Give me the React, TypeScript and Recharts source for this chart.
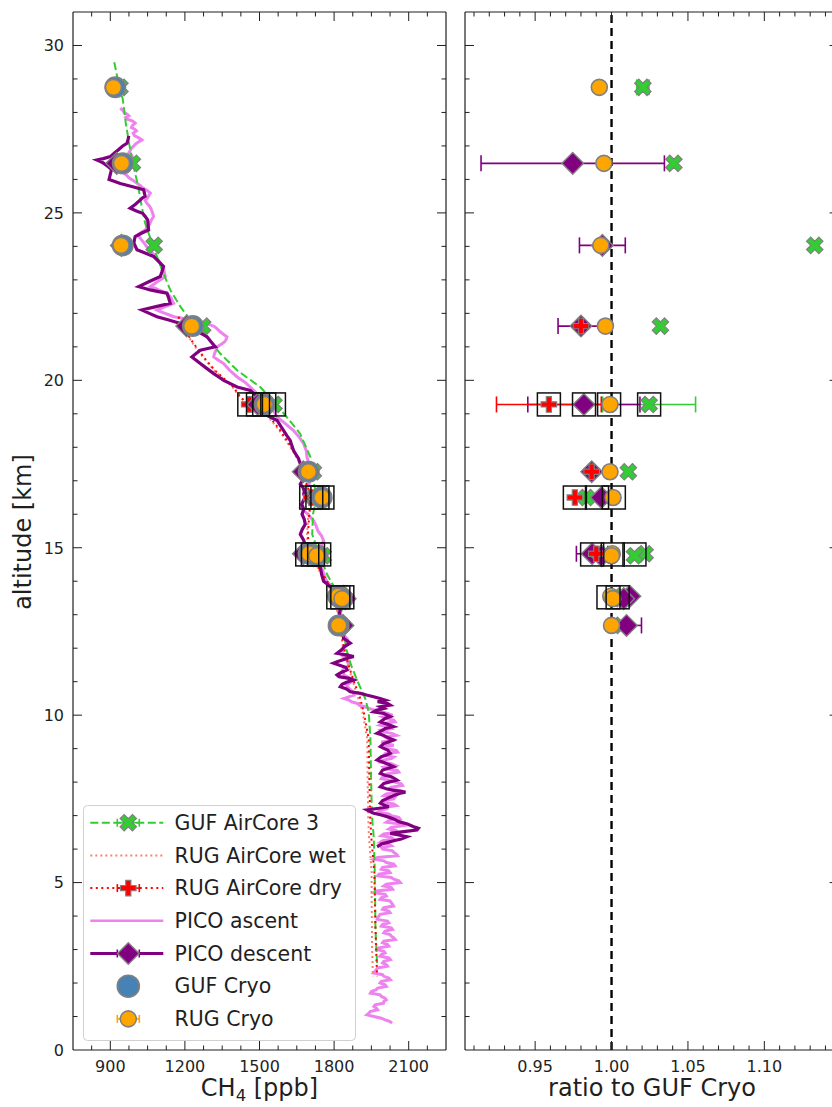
import React from "react";
import { ScatterChart, Scatter, XAxis, YAxis, ErrorBar, ReferenceLine } from "recharts";

const FONT = "'DejaVu Sans', sans-serif";
const INK = "#1f1f1f";
const EDGE = "#808080";

// ---- axis ticks ----
const altTicks = [0, 1, 2, 3, 4, 5, 6, 7, 8, 9, 10, 11, 12, 13, 14, 15, 16, 17, 18, 19, 20, 21, 22, 23, 24, 25, 26, 27, 28, 29, 30];
const altLabels = [0, 5, 10, 15, 20, 25, 30];
const ch4Ticks = [825, 900, 975, 1050, 1125, 1200, 1275, 1350, 1425, 1500, 1575, 1650, 1725, 1800, 1875, 1950, 2025, 2100, 2175];
const ch4Labels = [900, 1200, 1500, 1800, 2100];
const ratioTicks = [0.91, 0.92, 0.93, 0.94, 0.95, 0.96, 0.97, 0.98, 0.99, 1.0, 1.01, 1.02, 1.03, 1.04, 1.05, 1.06, 1.07, 1.08, 1.09, 1.1, 1.11, 1.12, 1.13, 1.14];
const ratioLabels = [0.95, 1.0, 1.05, 1.1];

// ---- cryo samples ----
const sampleAlt = [28.75, 26.48, 24.03, 21.62, 19.28, 17.27, 16.5, 14.82, 14.76, 13.55, 13.48, 12.68];
const gufCryo = [920, 950, 950, 1232, 1521, 1698, 1750, 1698, 1730, 1816, 1830, 1818];
const rugCryoRatio = [0.992, 0.995, 0.993, 0.996, 0.999, 0.999, 1.001, 1.0005, 1.0, 0.9995, 1.0008, 1.0];
const gufAirCoreRatio = [1.0205, 1.0408, 1.133, 1.032, 1.0246, 1.011, 0.9836, 1.022, 1.015, 1.0074, 1.0065, 1.0066];
const gufAirCoreErr = [0.004, null, null, null, 0.0304, null, null, null, null, null, null, null];
const rugDryRatio = [null, null, null, 0.98, 0.959, 0.987, 0.976, 0.99, null, null, null, null];
const rugDryErr = [null, null, null, null, 0.0343, null, null, null, null, null, null, null];
const picoDescRatio = [null, 0.9746, 0.994, 0.98, 0.9819, 0.987, 0.9934, 0.9873, 0.9934, 1.012, 1.008, 1.0098];
const picoDescErr = [null, 0.06, 0.015, 0.015, 0.0367, null, null, 0.0103, null, null, null, 0.0098];

// highlighted samples (black boxes)
const boxAlt = [19.28, 19.28, 19.28, 19.28, 16.5, 16.5, 16.5, 14.8, 14.8, 14.8, 13.52, 13.52];
const boxRatio = [0.959, 0.982, 0.9984, 1.0246, 0.976, 0.9905, 1.0015, 0.9873, 1.0008, 1.015, 0.998, 1.004];
const boxCh4 = [1459, 1494, 1519, 1558, 1708, 1733, 1753, 1692, 1715, 1740, 1817, 1833];

// ---- profiles [altitude km, CH4 ppb] ----
const gufAirCore3 = [
  [29.5, 916], [28.8, 935], [28.4, 950], [27.7, 962], [27.1, 975], [26.5, 990], [25.8, 1012], [25.2, 1026],
  [24.7, 1040], [24.0, 1072], [23.3, 1108], [22.7, 1141], [22.2, 1182], [21.8, 1222], [21.3, 1289], [20.8, 1342],
  [20.3, 1410], [19.8, 1503], [19.3, 1565], [18.9, 1610], [18.4, 1664], [17.7, 1705], [17.2, 1712], [16.5, 1730],
  [16.0, 1715], [15.4, 1712], [14.8, 1740], [14.2, 1772], [13.5, 1825], [12.7, 1836], [12.0, 1848], [11.5, 1868],
  [11.0, 1895], [10.5, 1925], [10.1, 1939], [9.3, 1946], [8.0, 1949], [7.0, 1952], [6.4, 1959], [5.5, 1963],
  [4.5, 1965], [3.7, 1966], [3.0, 1970], [2.6, 1973],
];

const rugAirCoreDry = [
  [21.9, 1175], [21.7, 1182], [21.1, 1235], [20.7, 1275], [20.3, 1320], [19.8, 1395], [19.5, 1423], [19.3, 1455],
  [19.0, 1530], [18.5, 1584], [17.9, 1637], [17.5, 1668], [17.25, 1675], [16.9, 1690], [16.5, 1708], [16.0, 1700],
  [15.4, 1695], [14.8, 1700], [14.2, 1755], [13.8, 1790], [13.5, 1808], [12.7, 1825], [12.0, 1840], [11.5, 1858],
  [11.0, 1880], [10.5, 1905], [10.1, 1919], [9.3, 1939], [8.0, 1942], [7.0, 1945], [6.4, 1949], [5.3, 1962],
  [4.5, 1964], [3.8, 1966], [3.0, 1969], [2.2, 1973],
];

const rugAirCoreWet = [
  [21.9, 1172], [21.7, 1180], [21.1, 1232], [20.7, 1272], [20.3, 1317], [19.8, 1392], [19.5, 1420], [19.3, 1452],
  [19.0, 1526], [18.5, 1580], [17.9, 1633], [17.5, 1664], [16.9, 1686], [16.5, 1704], [16.0, 1696], [15.4, 1691],
  [14.8, 1696], [14.2, 1751], [13.5, 1804], [12.7, 1821], [12.0, 1836], [11.0, 1876], [10.1, 1914], [9.3, 1933],
  [8.0, 1935], [7.0, 1937], [6.4, 1940], [5.3, 1951], [4.5, 1951], [3.8, 1952], [3.0, 1953], [2.2, 1956],
];

const picoAscent = [
  [28.13, 940], [28.05, 952], [28.0, 955], [27.95, 968], [27.9, 975], [27.85, 962], [27.8, 968], [27.74, 990],
  [27.68, 1000], [27.6, 988], [27.55, 985], [27.5, 998], [27.45, 1005], [27.38, 992], [27.3, 998], [27.24, 1015],
  [27.18, 1027], [27.1, 1010], [27.05, 1000], [26.98, 992], [26.93, 985], [26.86, 980], [26.8, 975], [26.72, 986],
  [26.65, 990], [26.58, 978], [26.5, 985], [26.42, 972], [26.35, 965], [26.27, 960], [26.19, 953], [26.12, 966],
  [26.05, 975], [25.97, 992], [25.89, 1007], [25.82, 1020], [25.75, 1030], [25.67, 1048], [25.59, 1061], [25.52, 1055],
  [25.45, 1050], [25.37, 1040], [25.29, 1047], [25.2, 1058], [25.1, 1065], [25.0, 1070], [24.89, 1074], [24.8, 1066],
  [24.7, 1060], [24.6, 1052], [24.49, 1041], [24.42, 1025], [24.34, 1010], [24.27, 1018], [24.2, 1025], [24.1, 1036],
  [24.0, 1045], [23.9, 1058], [23.8, 1070], [23.72, 1078], [23.65, 1085], [23.57, 1095], [23.5, 1101], [23.4, 1108],
  [23.3, 1115], [23.2, 1118], [23.1, 1121], [23.02, 1105], [22.95, 1090], [22.87, 1075], [22.8, 1061], [22.75, 1080],
  [22.7, 1095], [22.65, 1112], [22.6, 1128], [22.52, 1138], [22.45, 1145], [22.37, 1150], [22.3, 1155], [22.25, 1138],
  [22.2, 1120], [22.15, 1104], [22.1, 1088], [22.05, 1102], [22.0, 1120], [21.95, 1138], [21.9, 1155], [21.85, 1195],
  [21.8, 1230], [21.75, 1260], [21.7, 1285], [21.65, 1305], [21.6, 1320], [21.52, 1332], [21.45, 1342], [21.37, 1356],
  [21.3, 1369], [21.22, 1366], [21.15, 1360], [21.07, 1345], [21.0, 1329], [20.92, 1326], [20.85, 1322], [20.77, 1318],
  [20.7, 1316], [20.65, 1325], [20.6, 1335], [20.55, 1346], [20.5, 1356], [20.4, 1368], [20.3, 1380], [20.2, 1395],
  [20.1, 1410], [19.95, 1440], [19.8, 1463], [19.6, 1490], [19.4, 1520], [19.2, 1545], [19.05, 1560], [18.9, 1571],
  [18.7, 1605], [18.5, 1637], [18.3, 1660], [18.1, 1678], [17.9, 1688], [17.7, 1691], [17.5, 1700], [17.3, 1705],
  [17.1, 1702], [16.9, 1700], [16.75, 1685], [16.6, 1690], [16.4, 1675], [16.2, 1664], [16.0, 1695], [15.8, 1718],
  [15.65, 1728], [15.5, 1735], [15.35, 1750], [15.2, 1758], [15.05, 1745], [14.9, 1735], [14.75, 1728], [14.6, 1730],
  [14.45, 1745], [14.3, 1755], [14.15, 1762], [14.0, 1770], [13.85, 1790], [13.7, 1800], [13.55, 1810], [13.4, 1815],
  [13.2, 1822], [13.0, 1828], [12.85, 1835], [12.7, 1830], [12.55, 1845], [12.4, 1840], [12.25, 1855], [12.1, 1850],
  [11.95, 1835], [11.8, 1830], [11.65, 1850], [11.5, 1860], [11.35, 1835], [11.2, 1840], [11.1, 1865], [11.0, 1870],
  [10.9, 1850], [10.8, 1860], [10.7, 1875], [10.6, 1880], [10.5, 1840], [10.45, 1860], [10.4, 1870], [10.35, 1895],
  [10.3, 1900], [10.25, 1925], [10.2, 1940], [10.15, 1965], [10.1, 1990], [10.05, 2015], [10.0, 2035], [9.95, 1995],
  [9.9, 2010], [9.85, 2040], [9.8, 2045], [9.75, 2000], [9.7, 1985], [9.65, 2020], [9.6, 2030], [9.55, 1990],
  [9.5, 2000], [9.45, 2035], [9.4, 2050], [9.35, 2005], [9.3, 2015], [9.25, 2045], [9.2, 1990], [9.15, 2010],
  [9.1, 2040], [9.05, 1995], [9.0, 2010], [8.95, 2050], [8.9, 2055], [8.85, 2005], [8.8, 2000], [8.75, 2040],
  [8.7, 2030], [8.65, 1990], [8.6, 1985], [8.55, 2030], [8.5, 2045], [8.45, 2000], [8.4, 2010], [8.35, 2055],
  [8.3, 2060], [8.25, 2015], [8.2, 2020], [8.15, 1995], [8.1, 1990], [8.05, 2030], [8.0, 2045], [7.95, 2070],
  [7.9, 2075], [7.85, 2030], [7.8, 2020], [7.75, 2065], [7.7, 2060], [7.65, 2010], [7.6, 2000], [7.55, 2045],
  [7.5, 2040], [7.45, 2000], [7.4, 1995], [7.35, 2040], [7.3, 2050], [7.25, 2005], [7.2, 2010], [7.15, 1985],
  [7.1, 1975], [7.05, 2020], [7.0, 2030], [6.95, 2060], [6.9, 2065], [6.85, 2020], [6.8, 2010], [6.75, 2070],
  [6.7, 2080], [6.65, 2030], [6.6, 2020], [6.55, 2050], [6.5, 2055], [6.45, 2000], [6.4, 1990], [6.35, 2030],
  [6.3, 2040], [6.25, 1995], [6.2, 1985], [6.15, 2020], [6.1, 2030], [6.05, 1990], [6.0, 1995], [5.95, 2035],
  [5.9, 2040], [5.85, 2050], [5.8, 2055], [5.75, 1975], [5.7, 1960], [5.65, 2000], [5.6, 2010], [5.55, 2040],
  [5.5, 2045], [5.45, 1995], [5.4, 1990], [5.35, 2020], [5.3, 2025], [5.25, 1980], [5.2, 1975], [5.15, 2030],
  [5.1, 2040], [5.05, 2060], [5.0, 2066], [4.95, 2010], [4.9, 2000], [4.85, 2030], [4.8, 2035], [4.75, 1970],
  [4.7, 1960], [4.65, 2005], [4.6, 2010], [4.55, 1990], [4.5, 1985], [4.45, 2025], [4.4, 2030], [4.35, 2035],
  [4.3, 2039], [4.25, 2000], [4.2, 1995], [4.15, 2020], [4.1, 2025], [4.05, 1985], [4.0, 1980], [3.95, 1975],
  [3.9, 1973], [3.85, 2015], [3.8, 2020], [3.75, 1995], [3.7, 1990], [3.65, 2030], [3.6, 2035], [3.55, 2005],
  [3.5, 2000], [3.45, 2025], [3.4, 2030], [3.35, 2040], [3.3, 2046], [3.25, 2000], [3.2, 1995], [3.15, 2015],
  [3.1, 2020], [3.05, 1980], [3.0, 1973], [2.95, 2000], [2.9, 2005], [2.85, 1990], [2.8, 1985], [2.75, 2020],
  [2.7, 2026], [2.65, 2000], [2.6, 1995], [2.55, 2010], [2.5, 2015], [2.45, 1975], [2.4, 1970], [2.35, 1965],
  [2.3, 1959], [2.25, 1995], [2.2, 2000], [2.15, 2020], [2.1, 2026], [2.05, 1990], [2.0, 1985], [1.95, 2005],
  [1.9, 2010], [1.85, 1975], [1.8, 1970], [1.75, 1950], [1.7, 1946], [1.65, 1985], [1.6, 1990], [1.55, 2005],
  [1.5, 2010], [1.45, 2000], [1.4, 1999], [1.35, 1965], [1.3, 1960], [1.25, 1970], [1.2, 1975], [1.15, 1945],
  [1.1, 1940], [1.05, 1932], [1.0, 1960], [0.95, 1990], [0.9, 2005], [0.85, 2025], [0.8, 2033],
];

const picoDescent = [
  [27.3, 974], [27.2, 972], [27.08, 967], [27.0, 950], [26.9, 935], [26.8, 918], [26.68, 900], [26.62, 872],
  [26.58, 846], [26.54, 858], [26.5, 870], [26.4, 888], [26.3, 905], [26.15, 900], [26.0, 895], [25.94, 918],
  [25.88, 940], [25.78, 990], [25.69, 1034], [25.6, 1037], [25.5, 1040], [25.45, 1030], [25.39, 1021], [25.25, 1000],
  [25.14, 980], [25.06, 1005], [24.99, 1030], [24.9, 1040], [24.79, 1050], [24.65, 1052], [24.49, 1054], [24.4, 1027],
  [24.29, 1000], [24.2, 997], [24.1, 995], [24.0, 1001], [23.9, 1007], [23.8, 1040], [23.7, 1074], [23.55, 1094],
  [23.4, 1114], [23.25, 1108], [23.1, 1101], [22.95, 1057], [22.8, 1014], [22.75, 1037], [22.7, 1060], [22.65, 1094],
  [22.6, 1128], [22.45, 1135], [22.3, 1141], [22.2, 1084], [22.1, 1027], [22.0, 1057], [21.9, 1088], [21.8, 1135],
  [21.7, 1182], [21.6, 1211], [21.5, 1240], [21.4, 1265], [21.3, 1289], [21.15, 1305], [21.0, 1322], [20.95, 1292],
  [20.9, 1262], [20.8, 1245], [20.7, 1228], [20.6, 1245], [20.5, 1262], [20.35, 1289], [20.2, 1316], [20.1, 1336],
  [20.0, 1356], [19.9, 1383], [19.8, 1410], [19.75, 1437], [19.7, 1463], [19.6, 1477], [19.5, 1490], [19.4, 1498],
  [19.3, 1505], [19.15, 1511], [19.0, 1517], [18.9, 1544], [18.8, 1571], [18.65, 1584], [18.5, 1597], [18.35, 1610],
  [18.2, 1624], [18.05, 1630], [17.9, 1637], [17.78, 1647], [17.67, 1657], [17.55, 1662], [17.4, 1670], [17.25, 1665],
  [17.1, 1668], [17.0, 1672], [16.9, 1664], [16.8, 1675], [16.7, 1680], [16.6, 1678], [16.5, 1684], [16.4, 1676],
  [16.3, 1670], [16.15, 1678], [16.0, 1671], [15.85, 1680], [15.7, 1684], [15.55, 1672], [15.4, 1664], [15.25, 1676],
  [15.1, 1684], [14.95, 1692], [14.8, 1700], [14.7, 1712], [14.6, 1725], [14.5, 1735], [14.4, 1745], [14.2, 1750],
  [14.0, 1758], [13.9, 1775], [13.8, 1790], [13.65, 1800], [13.5, 1812], [13.35, 1818], [13.2, 1825], [13.05, 1822],
  [12.9, 1820], [12.75, 1826], [12.6, 1830], [12.45, 1834], [12.3, 1838], [12.22, 1852], [12.15, 1865], [12.05, 1842],
  [11.95, 1830], [11.85, 1812], [11.8, 1850], [11.75, 1879], [11.68, 1845], [11.6, 1815], [11.55, 1798], [11.48, 1825],
  [11.42, 1848], [11.35, 1852], [11.28, 1830], [11.2, 1812], [11.15, 1820], [11.1, 1860], [11.05, 1879], [10.98, 1850],
  [10.92, 1832], [10.85, 1825], [10.78, 1850], [10.7, 1865], [10.65, 1906], [10.6, 1930], [10.55, 1959], [10.5, 1985],
  [10.45, 2006], [10.4, 1975], [10.35, 2015], [10.3, 2026], [10.25, 1986], [10.2, 2000], [10.15, 1970], [10.1, 1959],
  [10.05, 2000], [9.96, 2026], [9.9, 2005], [9.8, 1986], [9.73, 2015], [9.66, 2039], [9.6, 2005], [9.55, 1995],
  [9.46, 1973], [9.4, 1998], [9.35, 2010], [9.26, 2039], [9.2, 2018], [9.15, 2000], [9.06, 1986], [9.0, 2002],
  [8.96, 2015], [8.86, 2026], [8.8, 2008], [8.76, 1990], [8.66, 1973], [8.6, 1995], [8.56, 2010], [8.46, 2039],
  [8.4, 2012], [8.36, 1995], [8.26, 1986], [8.2, 2008], [8.16, 2030], [8.1, 2045], [8.06, 2053], [8.0, 2020],
  [7.96, 2000], [7.86, 1986], [7.8, 2010], [7.76, 2035], [7.7, 2087], [7.67, 2066], [7.6, 2040], [7.5, 2010],
  [7.45, 1995], [7.37, 1986], [7.3, 2005], [7.27, 2020], [7.22, 1980], [7.17, 1932], [7.12, 1945], [7.07, 1960],
  [7.02, 1990], [6.97, 2013], [6.9, 2040], [6.82, 2060], [6.75, 2095], [6.67, 2120], [6.62, 2139], [6.57, 2133],
  [6.52, 2080], [6.47, 2026], [6.42, 2060], [6.37, 2093], [6.3, 2070], [6.25, 2040], [6.2, 2015], [6.15, 1990],
  [6.1, 1980], [6.07, 1973],
];

// ---- helpers ----
const toPts = (rows: number[][]) => rows.map(([y, x]) => ({ x, y }));

function samplePts(ratio: (number | null)[], err: (number | null)[] | null, onCh4: boolean) {
  const out: { x: number; y: number; err?: number }[] = [];
  ratio.forEach((r, i) => {
    if (r == null) return;
    const e = err ? err[i] : null;
    out.push({ x: onCh4 ? r * gufCryo[i] : r, y: sampleAlt[i], ...(e != null ? { err: e } : {}) });
  });
  return out;
}

const plusUnit = [[-1, -3], [1, -3], [1, -1], [3, -1], [3, 1], [1, 1], [1, 3], [-1, 3], [-1, 1], [-3, 1], [-3, -1], [-1, -1]];
function crossPoints(cx: number, cy: number, k: number, rot: number) {
  const c = Math.cos(rot);
  const s = Math.sin(rot);
  return plusUnit.map(([a, b]) => `${cx + k * (a * c - b * s)},${cy + k * (a * s + b * c)}`).join(" ");
}

const noMark = () => <g />;
const circleMark = (r: number, fill: string) => (p: any) => (
  <circle cx={p.cx} cy={p.cy} r={r} fill={fill} stroke={EDGE} strokeWidth={1.6} />
);
const xMark = (k: number, fill: string) => (p: any) => (
  <polygon points={crossPoints(p.cx, p.cy, k, Math.PI / 4)} fill={fill} stroke={EDGE} strokeWidth={1.2} />
);
const plusMark = (k: number, fill: string) => (p: any) => (
  <polygon points={crossPoints(p.cx, p.cy, k, 0)} fill={fill} stroke={EDGE} strokeWidth={1.1} />
);
const diamondMark = (h: number, fill: string) => (p: any) => (
  <polygon
    points={`${p.cx},${p.cy - h} ${p.cx + h},${p.cy} ${p.cx},${p.cy + h} ${p.cx - h},${p.cy}`}
    fill={fill}
    stroke={EDGE}
    strokeWidth={1.4}
  />
);
const boxMark = (p: any) => (
  <rect x={p.cx - 11.5} y={p.cy - 11.5} width={23} height={23} fill="none" stroke="#111" strokeWidth={1.5} />
);

const TOP = 12;

const isMajor = (list: number[], v: number) => list.some((m) => Math.abs(m - v) < 1e-6);

const xTick = (labels: number[], fmt: (v: number) => string) => (props: any) => {
  const { x, y, payload } = props;
  const major = isMajor(labels, payload.value);
  const len = major ? 9 : 4.5;
  return (
    <g>
      <line x1={x} x2={x} y1={y} y2={y - len} stroke={INK} strokeWidth={1} />
      <line x1={x} x2={x} y1={TOP} y2={TOP + len} stroke={INK} strokeWidth={1} />
      {major && (
        <text x={x} y={y + 21.5} textAnchor="middle" fontSize={16} fontFamily={FONT} fill={INK}>
          {fmt(payload.value)}
        </text>
      )}
    </g>
  );
};

const yTick = (rightX: number, showLabel: boolean) => (props: any) => {
  const { x, y, payload } = props;
  const major = isMajor(altLabels, payload.value);
  const len = major ? 9 : 4.5;
  const edge = payload.value === 0;
  return (
    <g>
      {!edge && <line x1={x} x2={x + len} y1={y} y2={y} stroke={INK} strokeWidth={1} />}
      {!edge && <line x1={rightX} x2={rightX - len} y1={y} y2={y} stroke={INK} strokeWidth={1} />}
      {major && showLabel && (
        <text x={x - 9} y={y + 5.8} textAnchor="end" fontSize={16} fontFamily={FONT} fill={INK}>
          {payload.value}
        </text>
      )}
    </g>
  );
};

const GREEN = "#32CD32";
const RED = "#FF0000";
const SALMON = "#FA8072";
const VIOLET = "#EE82EE";
const PURPLE = "#800080";
const STEEL = "#4682B4";
const ORANGE = "#FFA500";

function ProfilePanel() {
  return (
    <ScatterChart width={460} height={1107} margin={{ top: TOP, right: 14, bottom: 0, left: 0 }}>
      <XAxis
        type="number"
        dataKey="x"
        domain={[750, 2250]}
        allowDataOverflow
        ticks={ch4Ticks}
        interval={0}
        tickLine={false}
        tickSize={0}
        tickMargin={0}
        height={57}
        axisLine={{ stroke: INK, strokeWidth: 1.2 }}
        tick={xTick(ch4Labels, (v) => String(v))}
      />
      <YAxis
        type="number"
        dataKey="y"
        domain={[0, 31]}
        allowDataOverflow
        ticks={altTicks}
        interval={0}
        tickLine={false}
        tickSize={0}
        tickMargin={0}
        width={73}
        axisLine={{ stroke: INK, strokeWidth: 1.2 }}
        tick={yTick(446, true)}
      />
      <ReferenceLine y={31} stroke={INK} strokeWidth={1.2} />
      <ReferenceLine x={2250} stroke={INK} strokeWidth={1.2} />

      <Scatter data={toPts(picoAscent)} shape={noMark} line={{ stroke: VIOLET, strokeWidth: 3 }} isAnimationActive={false} />
      <Scatter data={toPts(gufAirCore3)} shape={noMark} line={{ stroke: GREEN, strokeWidth: 2, strokeDasharray: "8 3.5" }} isAnimationActive={false} />
      <Scatter data={toPts(rugAirCoreWet)} shape={noMark} line={{ stroke: SALMON, strokeWidth: 2, strokeDasharray: "2 3" }} isAnimationActive={false} />
      <Scatter data={toPts(rugAirCoreDry)} shape={noMark} line={{ stroke: RED, strokeWidth: 2, strokeDasharray: "2 3.5" }} isAnimationActive={false} />
      <Scatter data={toPts(picoDescent)} shape={noMark} line={{ stroke: PURPLE, strokeWidth: 3.2 }} isAnimationActive={false} />

      <Scatter data={samplePts(gufAirCoreRatio, null, true)} shape={xMark(2.9, GREEN)} isAnimationActive={false} />
      <Scatter data={samplePts(rugDryRatio, null, true)} shape={plusMark(2.6, RED)} isAnimationActive={false} />
      <Scatter data={samplePts(picoDescRatio, null, true)} shape={diamondMark(10.8, PURPLE)} isAnimationActive={false} />
      <Scatter data={samplePts(gufCryo.map(() => 1), null, true)} shape={circleMark(10.2, STEEL)} isAnimationActive={false} />
      <Scatter data={samplePts(rugCryoRatio, null, true)} shape={circleMark(8, ORANGE)} isAnimationActive={false} />
      <Scatter data={boxAlt.map((y, i) => ({ x: boxCh4[i], y }))} shape={boxMark} isAnimationActive={false} />
    </ScatterChart>
  );
}

function RatioPanel() {
  return (
    <ScatterChart width={400} height={1107} margin={{ top: TOP, right: 11.4, bottom: 0, left: 0 }}>
      <XAxis
        type="number"
        dataKey="x"
        domain={[0.9041, 1.1486]}
        allowDataOverflow
        ticks={ratioTicks}
        interval={0}
        tickLine={false}
        tickSize={0}
        tickMargin={0}
        height={57}
        axisLine={{ stroke: INK, strokeWidth: 1.2 }}
        tick={xTick(ratioLabels, (v) => v.toFixed(2))}
      />
      <YAxis
        type="number"
        dataKey="y"
        domain={[0, 31]}
        allowDataOverflow
        ticks={altTicks}
        interval={0}
        tickLine={false}
        tickSize={0}
        tickMargin={0}
        width={15}
        axisLine={{ stroke: INK, strokeWidth: 1.2 }}
        tick={yTick(388.6, false)}
      />
      <ReferenceLine y={31} stroke={INK} strokeWidth={1.2} />

      <Scatter
        data={[{ x: 1, y: 0 }, { x: 1, y: 31 }]}
        shape={noMark}
        line={{ stroke: "#000", strokeWidth: 2.4, strokeDasharray: "8 5" }}
        isAnimationActive={false}
      />

      <Scatter data={samplePts(gufAirCoreRatio, gufAirCoreErr, false)} shape={xMark(2.9, GREEN)} isAnimationActive={false}>
        <ErrorBar dataKey="err" direction="x" width={8} stroke={GREEN} strokeWidth={1.6} />
      </Scatter>
      <Scatter data={samplePts(picoDescRatio, picoDescErr, false)} shape={diamondMark(10.8, PURPLE)} isAnimationActive={false}>
        <ErrorBar dataKey="err" direction="x" width={8} stroke={PURPLE} strokeWidth={1.6} />
      </Scatter>
      <Scatter data={samplePts(rugDryRatio, rugDryErr, false)} shape={plusMark(2.6, RED)} isAnimationActive={false}>
        <ErrorBar dataKey="err" direction="x" width={8} stroke={RED} strokeWidth={1.6} />
      </Scatter>
      <Scatter data={samplePts(rugCryoRatio, null, false)} shape={circleMark(8, ORANGE)} isAnimationActive={false} />
      <Scatter data={boxAlt.map((y, i) => ({ x: boxRatio[i], y }))} shape={boxMark} isAnimationActive={false} />
    </ScatterChart>
  );
}

const legendNames = ["GUF AirCore 3", "RUG AirCore wet", "RUG AirCore dry", "PICO ascent", "PICO descent", "GUF Cryo", "RUG Cryo"];

function Caps({ cx, cy, color }: { cx: number; cy: number; color: string }) {
  return (
    <g stroke={color} strokeWidth={1.6}>
      <line x1={cx - 11} x2={cx + 11} y1={cy} y2={cy} />
      <line x1={cx - 11} x2={cx - 11} y1={cy - 4} y2={cy + 4} />
      <line x1={cx + 11} x2={cx + 11} y1={cy - 4} y2={cy + 4} />
    </g>
  );
}

function Legend() {
  const x0 = 82.7;
  const y0 = 805;
  const hx1 = 90 - x0;
  const hx2 = 163 - x0;
  const hc = 128 - x0;
  const rowY = (i: number) => 17.7 + i * 32.7;
  return (
    <svg width={274} height={237} style={{ position: "absolute", left: x0, top: y0 }}>
      <rect x={0.5} y={0.5} width={272} height={235} rx={4} fill="rgba(255,255,255,0.85)" stroke="#d0d0d0" strokeWidth={1} />
      {/* GUF AirCore 3 */}
      <line x1={hx1} x2={hx2} y1={rowY(0)} y2={rowY(0)} stroke={GREEN} strokeWidth={2} strokeDasharray="8 3.5" />
      <Caps cx={hc} cy={rowY(0)} color={GREEN} />
      {xMark(2.9, GREEN)({ cx: hc, cy: rowY(0) })}
      {/* RUG wet */}
      <line x1={hx1} x2={hx2} y1={rowY(1)} y2={rowY(1)} stroke={SALMON} strokeWidth={2} strokeDasharray="2 3" />
      {/* RUG dry */}
      <line x1={hx1} x2={hx2} y1={rowY(2)} y2={rowY(2)} stroke={RED} strokeWidth={2} strokeDasharray="2 3.5" />
      <Caps cx={hc} cy={rowY(2)} color={RED} />
      {plusMark(2.6, RED)({ cx: hc, cy: rowY(2) })}
      {/* PICO ascent */}
      <line x1={hx1} x2={hx2} y1={rowY(3)} y2={rowY(3)} stroke={VIOLET} strokeWidth={2.4} />
      {/* PICO descent */}
      <line x1={hx1} x2={hx2} y1={rowY(4)} y2={rowY(4)} stroke={PURPLE} strokeWidth={2.8} />
      <Caps cx={hc} cy={rowY(4)} color={PURPLE} />
      {diamondMark(10.8, PURPLE)({ cx: hc, cy: rowY(4) })}
      {/* GUF Cryo */}
      {circleMark(11, STEEL)({ cx: hc, cy: rowY(5) })}
      {/* RUG Cryo */}
      <Caps cx={hc} cy={rowY(6)} color={ORANGE} />
      {circleMark(8, ORANGE)({ cx: hc, cy: rowY(6) })}
      {legendNames.map((n, i) => (
        <text key={n} x={174.3 - x0} y={rowY(i) + 7.2} fontSize={20.5} fontFamily={FONT} fill={INK}>
          {n}
        </text>
      ))}
    </svg>
  );
}

export default function App() {
  return (
    <div
      style={{
        position: "fixed",
        left: 0,
        top: 0,
        width: 832,
        height: 1107,
        overflow: "hidden",
        background: "#fff",
        fontFamily: FONT,
      }}
    >
      <div style={{ position: "absolute", left: 0, top: 0 }}>
        <ProfilePanel />
      </div>
      <div style={{ position: "absolute", left: 450, top: 0 }}>
        <RatioPanel />
      </div>
      <Legend />
      <svg width={832} height={1107} style={{ position: "absolute", left: 0, top: 0, pointerEvents: "none" }}>
        <text x={23} y={532} transform="rotate(-90 23 532)" textAnchor="middle" dominantBaseline="central" fontSize={24} fontFamily={FONT} fill={INK}>
          altitude [km]
        </text>
        <text x={259.5} y={1096} textAnchor="middle" fontSize={24} fontFamily={FONT} fill={INK}>
          CH
          <tspan fontSize={16.5} dy={5}>4</tspan>
          <tspan dy={-5}> [ppb]</tspan>
        </text>
        <text x={652} y={1096} textAnchor="middle" fontSize={24} fontFamily={FONT} fill={INK}>
          ratio to GUF Cryo
        </text>
      </svg>
    </div>
  );
}
